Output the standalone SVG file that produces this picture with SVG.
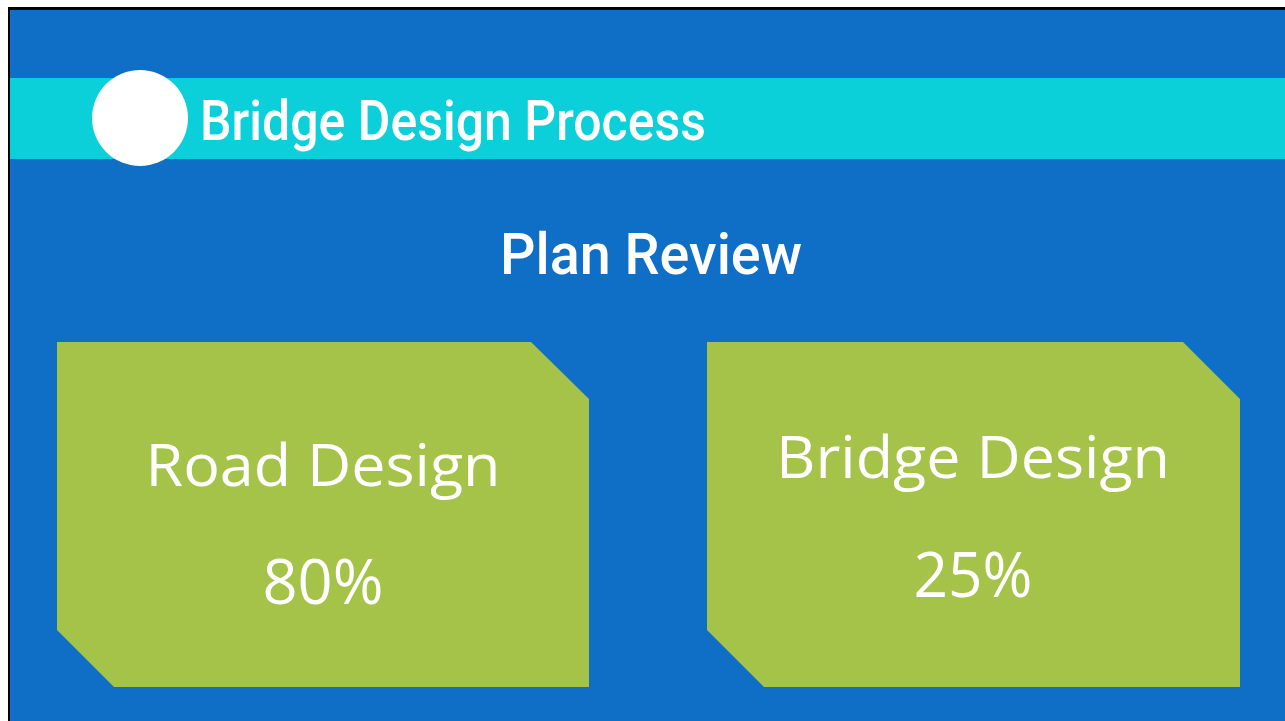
<svg xmlns="http://www.w3.org/2000/svg" width="1285" height="721" viewBox="0 0 1285 721">
<style>
.head{font-family:Roboto,"DejaVu Sans",sans-serif;fill:#fff;font-weight:500}
.card{fill:#A5C249}
.ct{font-family:"Open Sans","Noto Sans",sans-serif;fill:#fff;text-anchor:middle}
</style>
<rect width="1285" height="721" fill="#fff"/>
<rect x="8" y="7" width="1277" height="714" fill="#000"/>
<rect x="10" y="10" width="1275" height="711" fill="#0F6FC6"/>
<g id="banner">
<rect x="10" y="78" width="1275" height="81" fill="#0BD0D9"/>
<circle cx="140" cy="118" r="48" fill="#fff"/>
<text class="head" x="200" y="140" font-size="55" textLength="506" lengthAdjust="spacingAndGlyphs">Bridge Design Process</text>
</g>
<g id="subtitle">
<text class="head" x="500" y="274" font-size="58" textLength="302" lengthAdjust="spacingAndGlyphs">Plan Review</text>
</g>
<g id="road">
<polygon class="card" points="57,342 531,342 589,399 589,687 114,687 57,630"/>
<text class="ct" x="323" y="486" font-size="59" textLength="355" lengthAdjust="spacingAndGlyphs">Road Design</text>
<text class="ct" x="323" y="604" font-size="62" textLength="121" lengthAdjust="spacingAndGlyphs">80%</text>
</g>
<g id="bridge">
<polygon class="card" points="707,342 1183,342 1240,399 1240,687 764,687 707,630"/>
<text class="ct" x="973" y="478" font-size="59" textLength="394" lengthAdjust="spacingAndGlyphs">Bridge Design</text>
<text class="ct" x="973" y="597" font-size="62" textLength="119" lengthAdjust="spacingAndGlyphs">25%</text>
</g>
<g id="connectors"/>
</svg>
